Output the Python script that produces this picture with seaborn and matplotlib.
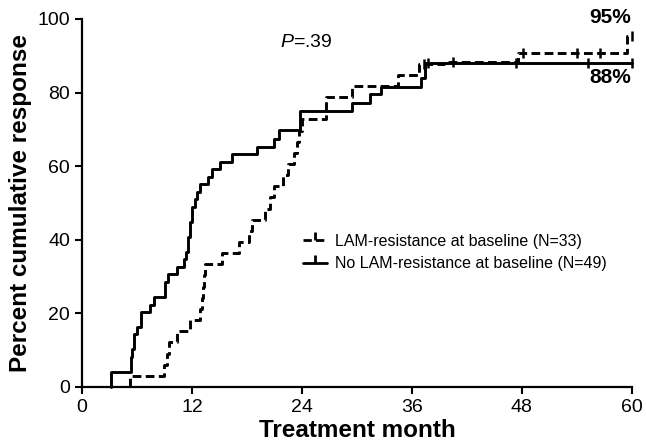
import numpy as np
import pandas as pd
import matplotlib
matplotlib.use("Agg")
import matplotlib.pyplot as plt
from matplotlib.lines import Line2D
import seaborn as sns

# step curves (month, cumulative %)
lam_t = [5.2, 5.2, 8.9, 9.3, 9.5, 10.4, 11.8, 12.9, 13.1, 13.2, 13.3, 13.4, 15.3, 17.1,
         18.2, 18.6, 20.0, 20.5, 21.0, 21.9, 22.5, 23.1, 23.5, 23.7, 24.0, 26.6, 29.5,
         34.5, 36.8, 39.5, 47.6, 59.5, 60.0]
lam_p = [0, 3.0, 6.1, 9.1, 12.1, 15.2, 18.2, 21.2, 24.2, 27.3, 30.3, 33.3, 36.4, 39.4,
         42.4, 45.5, 48.5, 51.5, 54.5, 57.6, 60.6, 63.6, 66.7, 69.7, 72.7, 78.8, 81.8,
         84.8, 87.9, 88.4, 90.7, 95.5, 95.5]

nolam_t = [3.2, 3.2, 5.3, 5.5, 5.7, 6.0, 6.4, 7.4, 7.8, 9.0, 9.4, 10.4, 11.1, 11.4, 11.6,
           11.8, 12.0, 12.3, 12.6, 12.9, 13.7, 14.2, 15.1, 16.4, 19.1, 21.0, 21.5, 23.8,
           29.5, 31.4, 32.6, 37.0, 37.4, 60.0]
nolam_p = [0, 4.1, 8.2, 10.2, 14.3, 16.3, 20.4, 22.4, 24.5, 28.6, 30.6, 32.7, 34.7, 36.7,
           40.8, 44.9, 49.0, 51.0, 53.1, 55.1, 57.1, 59.2, 61.2, 63.3, 65.3, 67.3, 69.8,
           75.0, 77.3, 79.5, 81.6, 84.0, 88.0, 88.0]

lam_censor = [37.3, 40.5, 48.1, 54.0, 56.5, 60.0]
nolam_censor = [37.8, 47.4, 55.2, 60.0]

lam_label = "LAM-resistance at baseline (N=33)"
nolam_label = "No LAM-resistance at baseline (N=49)"

sns.set_style("ticks")
plt.rcParams["font.family"] = ["Liberation Sans", "DejaVu Sans"]
plt.rcParams["mathtext.fontset"] = "custom"
plt.rcParams["mathtext.it"] = "Liberation Sans:italic"
plt.rcParams["mathtext.rm"] = "Liberation Sans"
plt.rcParams["text.color"] = "black"
plt.rcParams["axes.labelcolor"] = "black"

df = pd.concat([
    pd.DataFrame({"month": lam_t, "pct": lam_p, "group": lam_label}),
    pd.DataFrame({"month": nolam_t, "pct": nolam_p, "group": nolam_label}),
])

fig = plt.figure(figsize=(6.46, 4.46), dpi=100)
ax = fig.add_axes([0.127, 0.1323, 0.851, 0.8251])

sns.lineplot(data=df, x="month", y="pct", hue="group", style="group",
             palette={lam_label: "black", nolam_label: "black"},
             dashes={lam_label: (3, 1.5), nolam_label: ""},
             estimator=None, sort=False, drawstyle="steps-post",
             linewidth=2.1, legend=False, ax=ax, clip_on=False)


def step_value(ts, ps, t):
    i = np.searchsorted(ts, t, side="right") - 1
    return ps[i]


ax.plot(lam_censor, [step_value(lam_t, lam_p, t) for t in lam_censor], ls="none",
        marker="|", ms=7, mew=1.8, color="black", clip_on=False)
ax.plot(nolam_censor, [step_value(nolam_t, nolam_p, t) for t in nolam_censor], ls="none",
        marker="|", ms=7, mew=1.8, color="black", clip_on=False)

ax.set_xlim(0, 60)
ax.set_ylim(0, 100)
ax.set_xticks([0, 12, 24, 36, 48, 60])
ax.set_yticks([0, 20, 40, 60, 80, 100])
ax.tick_params(labelsize=14, width=1.5, length=5, color="black", labelcolor="black")
for s in ["left", "bottom"]:
    ax.spines[s].set_linewidth(1.6)
    ax.spines[s].set_color("black")
sns.despine(ax=ax)

ax.set_xlabel("Treatment month", fontsize=17.5, fontweight="bold", labelpad=2)
ax.set_ylabel("Percent cumulative response", fontsize=17.5, fontweight="bold", labelpad=4)

ax.text(21.6, 93.5, r"$\mathit{P}$=.39", fontsize=14, va="center", ha="left")
ax.text(59.9, 100.3, "95%", fontsize=15, fontweight="bold", ha="right", va="center", clip_on=False)
ax.text(59.9, 84.0, "88%", fontsize=15, fontweight="bold", ha="right", va="center")

handles = [
    Line2D([], [], color="black", lw=2, ls=(0, (3, 1.5)), marker=2, ms=6, mew=2,
           markevery=[1], label=lam_label),
    Line2D([], [], color="black", lw=2, marker=2, ms=6, mew=2, markevery=[1],
           label=nolam_label),
]
ax.legend(handles=handles, loc="center left", bbox_to_anchor=(0.39, 0.365),
          frameon=False, fontsize=11.5, handlelength=1.5, handletextpad=0.5,
          borderaxespad=0, labelspacing=0.45, labelcolor="black")

fig.savefig("out.png", dpi=100)
